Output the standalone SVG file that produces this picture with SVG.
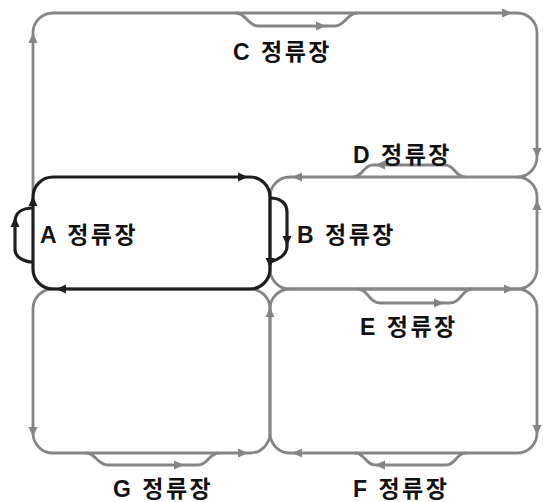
<svg xmlns="http://www.w3.org/2000/svg" xmlns:xlink="http://www.w3.org/1999/xlink" width="543" height="502" viewBox="0 0 543 502">
<style>
.g{fill:none;stroke:#858585;stroke-width:2.8}
.k{fill:none;stroke:#1e1e1e;stroke-width:3.2}
.ag{fill:#858585}
.ak{fill:#1e1e1e}
.lbl{font-family:"Liberation Sans","Noto Sans CJK KR",sans-serif;font-weight:bold;font-size:23px;letter-spacing:2.5px;fill:#111}
</style>
<defs>
<path id="ah" d="M0,0 L-10,-4.5 L-10,4.5 Z"/>
</defs>
<rect width="543" height="502" fill="#fff"/>
<g id="connectors">
<path class="g" d="M33,192 V33 A20,20 0 0 1 53,13 H517 A20,20 0 0 1 537,33 V157 A20,20 0 0 1 517,177"/>
<rect class="g" x="270" y="177" width="267" height="112" rx="20" ry="20"/>
<rect class="g" x="33" y="289" width="237" height="164" rx="20" ry="20"/>
<rect class="g" x="270" y="289" width="267" height="164" rx="20" ry="20"/>
<rect class="k" x="33" y="177" width="237" height="112" rx="20" ry="20"/>
<g class="ag">
<use xlink:href="#ah" transform="translate(33,33) rotate(-90)"/>
<use xlink:href="#ah" transform="translate(512,13)"/>
<use xlink:href="#ah" transform="translate(537,158) rotate(90)"/>
<use xlink:href="#ah" transform="translate(292,177) rotate(180)"/>
<use xlink:href="#ah" transform="translate(537,200) rotate(-90)"/>
<use xlink:href="#ah" transform="translate(514,289)"/>
<use xlink:href="#ah" transform="translate(537,435) rotate(90)"/>
<use xlink:href="#ah" transform="translate(292,453) rotate(180)"/>
<use xlink:href="#ah" transform="translate(248,453)"/>
<use xlink:href="#ah" transform="translate(33,437) rotate(90)"/>
<use xlink:href="#ah" transform="translate(270,307) rotate(-90)"/>
</g>
<g class="ak">
<use xlink:href="#ah" transform="translate(248,177)"/>
<use xlink:href="#ah" transform="translate(270,268) rotate(90)"/>
<use xlink:href="#ah" transform="translate(56,289) rotate(180)"/>
<use xlink:href="#ah" transform="translate(33,196) rotate(-90)"/>
</g>
</g>
<g id="station-C">
<path class="g" d="M236,13 C246,13 248,26 258,26 H335 C345,26 347,13 357,13"/>
<use class="ag" xlink:href="#ah" transform="translate(326,26)"/>
<text class="lbl" x="233" y="60">C 정류장</text>
</g>
<g id="station-D">
<path class="g" d="M353,177 C363,177 363,165 373,165 H445 C455,165 455,177 465,177"/>
<use class="ag" xlink:href="#ah" transform="translate(375,165) rotate(180)"/>
<text class="lbl" x="353" y="163">D 정류장</text>
</g>
<g id="station-A">
<path class="k" d="M33,208 C22,208 15,213 15,222 V250 C15,257 24,262 33,262"/>
<use class="ak" xlink:href="#ah" transform="translate(15,217) rotate(-90)"/>
<text class="lbl" x="40" y="243">A 정류장</text>
</g>
<g id="station-B">
<path class="k" d="M270,198 C280,198 287,203 287,212 V246 C287,255 278,260 270,262"/>
<use class="ak" xlink:href="#ah" transform="translate(287,246) rotate(90)"/>
<text class="lbl" x="297" y="243">B 정류장</text>
</g>
<g id="station-E">
<path class="g" d="M358,289 C368,289 369,303 380,303 H450 C461,303 462,289 472,289"/>
<use class="ag" xlink:href="#ah" transform="translate(444,303)"/>
<text class="lbl" x="360" y="335">E 정류장</text>
</g>
<g id="station-F">
<path class="g" d="M355,453 C365,453 365,465 376,465 H446 C456,465 456,453 466,453"/>
<use class="ag" xlink:href="#ah" transform="translate(375,465) rotate(180)"/>
<text class="lbl" x="353" y="497">F 정류장</text>
</g>
<g id="station-G">
<path class="g" d="M86,453 C96,453 97,465 108,465 H198 C208,465 209,453 219,453"/>
<use class="ag" xlink:href="#ah" transform="translate(184,465)"/>
<text class="lbl" x="113" y="497">G 정류장</text>
</g>
</svg>
